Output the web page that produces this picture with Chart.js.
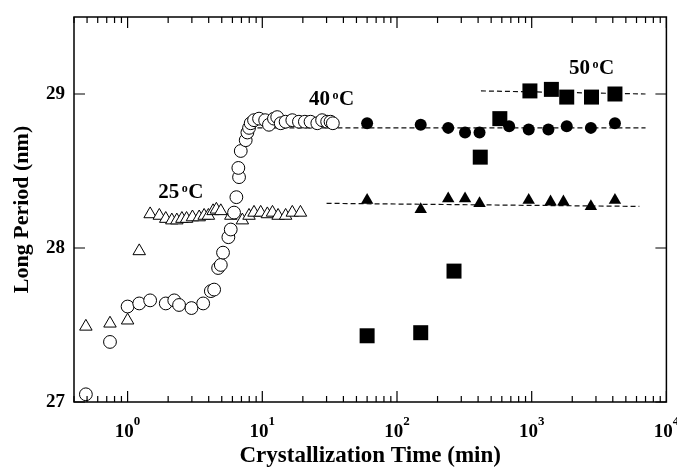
<!DOCTYPE html>
<html>
<head>
<meta charset="utf-8">
<script src="https://cdn.jsdelivr.net/npm/chart.js@4.4.0/dist/chart.umd.min.js"></script>
<style>
  body { margin: 0; background: #fff; }
  #wrap { width: 677px; height: 470px; }
</style>
</head>
<body>
<div id="wrap"><canvas id="grafico"></canvas></div>
<script>
// tempos em minutos, periodo longo em nm
const tempoCirculoAberto = [0.49, 0.74, 1.0, 1.22, 1.47, 1.92, 2.22, 2.41, 2.98, 3.64, 4.15, 4.39, 4.7, 4.92, 5.11, 5.6, 5.83, 6.17, 6.42, 6.72, 6.64, 6.92, 7.53, 7.75, 7.97, 8.2, 8.68, 9.46, 10.5, 11.2, 12.2, 12.9, 13.7, 14.9, 16.7, 18.7, 20.7, 22.8, 25.6, 27.8, 30.3, 32.1, 33.4];
const periodoCirculoAberto = [27.05, 27.39, 27.62, 27.64, 27.66, 27.64, 27.66, 27.63, 27.61, 27.64, 27.72, 27.73, 27.87, 27.89, 27.97, 28.07, 28.12, 28.23, 28.33, 28.46, 28.52, 28.63, 28.70, 28.75, 28.78, 28.81, 28.83, 28.84, 28.83, 28.80, 28.84, 28.85, 28.81, 28.82, 28.83, 28.82, 28.82, 28.82, 28.81, 28.83, 28.82, 28.82, 28.81];

const tempoTrianguloAberto = [0.49, 0.74, 1.0, 1.22, 1.47, 1.72, 1.92, 2.13, 2.32, 2.53, 2.74, 3.03, 3.4, 3.7, 3.98, 4.31, 4.56, 4.92, 5.84, 7.11, 7.97, 8.68, 9.73, 10.9, 11.9, 13.1, 14.9, 16.7, 19.2];
const periodoTrianguloAberto = [27.49, 27.51, 27.53, 27.98, 28.22, 28.21, 28.19, 28.18, 28.18, 28.19, 28.19, 28.20, 28.20, 28.21, 28.21, 28.24, 28.25, 28.24, 28.21, 28.18, 28.21, 28.23, 28.23, 28.22, 28.23, 28.21, 28.21, 28.23, 28.23];

const tempoCirculo = [60, 150, 240, 320, 410, 680, 950, 1330, 1820, 2750, 4150];
const periodoCirculo = [28.81, 28.80, 28.78, 28.75, 28.75, 28.79, 28.77, 28.77, 28.79, 28.78, 28.81];

const tempoTriangulo = [60, 150, 240, 320, 410, 950, 1380, 1720, 2750, 4150];
const periodoTriangulo = [28.31, 28.25, 28.32, 28.32, 28.29, 28.31, 28.30, 28.30, 28.27, 28.31];

const tempoQuadrado = [60, 150, 265, 415, 580, 970, 1400, 1820, 2780, 4150];
const periodoQuadrado = [27.43, 27.45, 27.85, 28.59, 28.84, 29.02, 29.03, 28.98, 28.98, 29.00];

// retas tracejadas (extremos)
const tempoReta40 = [9.2, 7000];
const periodoReta40 = [28.78, 28.78];
const tempoReta25 = [30, 6300];
const periodoReta25 = [28.29, 28.27];
const tempoReta50 = [420, 7000];
const periodoReta50 = [29.02, 29.00];

const expoentesX = [0, 1, 2, 3, 4];
const ticksY = [27, 28, 29];

const rotulos = [
  { texto: "25", t: 1.69, L: 28.327 },
  { texto: "40", t: 22.2, L: 28.93 },
  { texto: "50", t: 1893, L: 29.132 }
];

const fonte = "'Liberation Serif', 'Times New Roman', serif";

function pares(xs, ys) {
  return xs.map((v, i) => ({ x: v, y: ys[i] }));
}

function reta(xs, ys) {
  return {
    type: "line",
    data: pares(xs, ys),
    borderColor: "#111",
    borderWidth: 1.2,
    borderDash: [5, 3],
    pointRadius: 0,
    fill: false,
    clip: false
  };
}

const molduraPlugin = {
  id: "moldura",
  afterDraw(chart) {
    const { ctx, chartArea: a, scales: { x, y } } = chart;
    ctx.save();
    ctx.strokeStyle = "#000";
    ctx.lineWidth = 1.5;
    ctx.strokeRect(a.left, a.top, a.right - a.left, a.bottom - a.top);

    ctx.lineWidth = 1.2;
    ctx.beginPath();
    for (let d = -1; d <= 4; d++) {
      for (let k = 1; k <= 9; k++) {
        const v = k * Math.pow(10, d);
        if (v < x.min || v > x.max * 1.0001) continue;
        const px = x.getPixelForValue(v);
        const len = k === 1 ? 11 : 6;
        ctx.moveTo(px, a.bottom); ctx.lineTo(px, a.bottom - len);
        ctx.moveTo(px, a.top); ctx.lineTo(px, a.top + len);
      }
    }
    ticksY.forEach(v => {
      const py = y.getPixelForValue(v);
      ctx.moveTo(a.left, py); ctx.lineTo(a.left + 11, py);
      ctx.moveTo(a.right, py); ctx.lineTo(a.right - 11, py);
    });
    ctx.stroke();

    // rotulos do eixo x: 10 com expoente
    ctx.fillStyle = "#000";
    ctx.textBaseline = "alphabetic";
    ctx.textAlign = "left";
    expoentesX.forEach(e => {
      const px = x.getPixelForValue(Math.pow(10, e));
      ctx.font = "bold 19px " + fonte;
      const w1 = ctx.measureText("10").width;
      ctx.font = "bold 13px " + fonte;
      const w2 = ctx.measureText(String(e)).width;
      const inicio = px - (w1 + w2) / 2;
      ctx.font = "bold 19px " + fonte;
      ctx.fillText("10", inicio, a.bottom + 35);
      ctx.font = "bold 13px " + fonte;
      ctx.fillText(String(e), inicio + w1, a.bottom + 23);
    });

    // rotulos de temperatura
    rotulos.forEach(r => {
      const px = x.getPixelForValue(r.t);
      const py = y.getPixelForValue(r.L);
      ctx.font = "bold 21px " + fonte;
      const w = ctx.measureText(r.texto).width;
      ctx.fillText(r.texto, px, py);
      ctx.font = "bold 12px " + fonte;
      const wo = ctx.measureText("o").width;
      ctx.fillText("o", px + w + 2.5, py - 6);
      ctx.font = "bold 21px " + fonte;
      ctx.fillText("C", px + w + 2.5 + wo + 0.5, py);
    });
    ctx.restore();
  }
};

const ctx = document.getElementById("grafico").getContext("2d");

const grafico = new Chart(ctx, {
  type: "scatter",
  data: {
    datasets: [
      {
        data: pares(tempoCirculoAberto, periodoCirculoAberto),
        pointStyle: "circle",
        pointRadius: 6.4,
        backgroundColor: "#fff",
        borderColor: "#000",
        borderWidth: 1,
        clip: false
      },
      {
        data: pares(tempoTrianguloAberto, periodoTrianguloAberto),
        pointStyle: "triangle",
        pointRadius: 7.2,
        backgroundColor: "#fff",
        borderColor: "#000",
        borderWidth: 1,
        clip: false
      },
      {
        data: pares(tempoQuadrado, periodoQuadrado),
        pointStyle: "rect",
        pointRadius: 10.6,
        backgroundColor: "#000",
        borderColor: "#000",
        borderWidth: 0,
        clip: false
      },
      {
        data: pares(tempoCirculo, periodoCirculo),
        pointStyle: "circle",
        pointRadius: 6,
        backgroundColor: "#000",
        borderColor: "#000",
        borderWidth: 0,
        clip: false
      },
      {
        data: pares(tempoTriangulo, periodoTriangulo),
        pointStyle: "triangle",
        pointRadius: 7.2,
        backgroundColor: "#000",
        borderColor: "#000",
        borderWidth: 0,
        clip: false
      },
      reta(tempoReta40, periodoReta40),
      reta(tempoReta25, periodoReta25),
      reta(tempoReta50, periodoReta50)
    ]
  },
  options: {
    responsive: true,
    maintainAspectRatio: false,
    animation: false,
    layout: { padding: { top: 17, right: 10, left: 0, bottom: 0 } },
    plugins: {
      legend: { display: false },
      tooltip: { enabled: false }
    },
    scales: {
      x: {
        type: "logarithmic",
        min: 0.4,
        max: 10000,
        ticks: { display: false },
        grid: { display: false, drawTicks: false },
        border: { display: false },
        title: {
          display: true,
          text: "Crystallization Time (min)",
          color: "#000",
          font: { family: fonte, size: 23, weight: "bold" },
          padding: { top: 0, bottom: 0 }
        },
        afterFit: s => { s.height = 68; s.paddingLeft = 0; s.paddingRight = 0; }
      },
      y: {
        type: "linear",
        min: 27,
        max: 29.5,
        ticks: {
          stepSize: 1,
          color: "#000",
          padding: 9,
          font: { family: fonte, size: 19, weight: "bold" }
        },
        afterBuildTicks: s => { s.ticks = s.ticks.filter(t => ticksY.includes(t.value)); },
        grid: { display: false, drawTicks: false },
        border: { display: false },
        title: {
          display: true,
          text: "Long Period (nm)",
          color: "#000",
          font: { family: fonte, size: 22, weight: "bold" },
          padding: { top: 9, bottom: 0 }
        },
        afterFit: s => { s.width = 74; s.paddingTop = 0; s.paddingBottom = 0; }
      }
    }
  },
  plugins: [molduraPlugin]
});
</script>
</body>
</html>
